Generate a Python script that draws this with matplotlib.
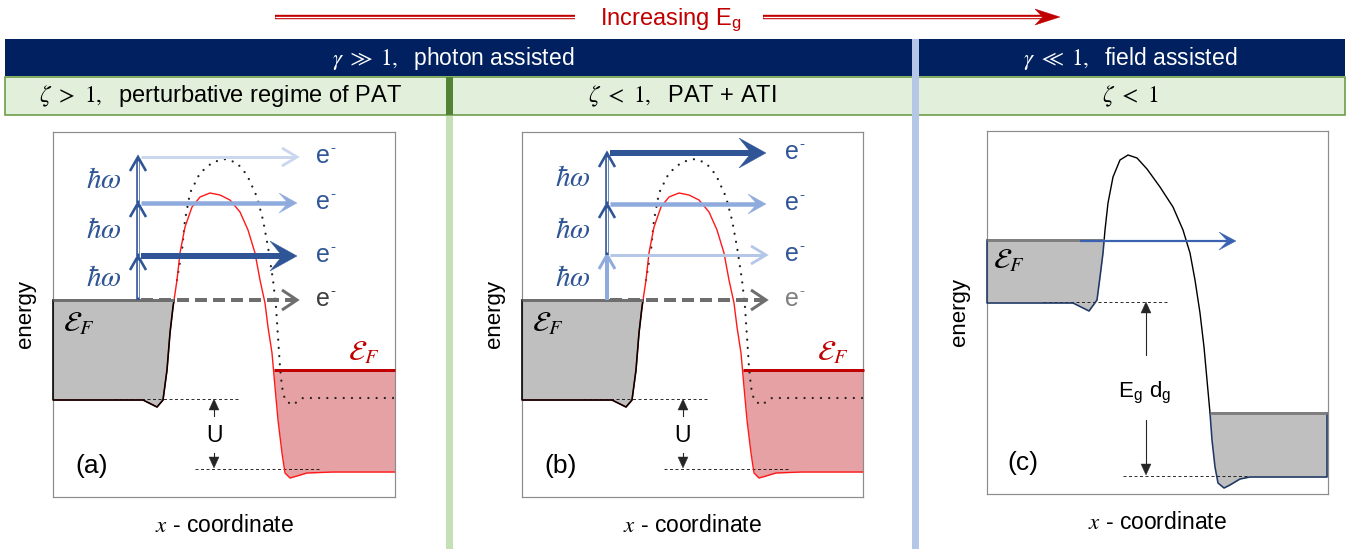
import numpy as np
import matplotlib
matplotlib.use('Agg')
import matplotlib.pyplot as plt
from matplotlib.patches import Rectangle, Polygon

plt.rcParams['font.family'] = ['Liberation Sans', 'DejaVu Sans']
plt.rcParams['mathtext.fontset'] = 'stix'
plt.rcParams['lines.scale_dashes'] = False

W, H, DPI = 1355, 550, 100
PT = 72.0 / DPI   # points per pixel

# ---------------- texts ----------------
regime_labels = [r'$\gamma\ \gg\ 1,$  photon assisted', r'$\gamma\ \ll\ 1,$  field assisted']
subregime_labels = [r'$\zeta\ >\ 1,$  perturbative regime of PAT', r'$\zeta\ <\ 1,$  PAT + ATI',
                    r'$\zeta\ <\ 1$']
trend_label = r'Increasing E$_\mathregular{g}$'
panel_tags = ['(a)', '(b)', '(c)']
x_label = r'$x$ - coordinate'
y_label = 'energy'
photon_label = r'$\hbar\omega$'
electron_label = 'e'
electron_sup = '-'
fermi_label = r'$\mathcal{E}_F$'
gap_label = r'E$_\mathregular{g}$ d$_\mathregular{g}$'
shift_label = 'U'

# ---------------- values (panel units: x from left edge, energy up from bottom) ----------------
# photon-assisted barrier (panels a, b)
pat_x = np.array([0, 90, 104, 110, 114, 117, 120, 124, 127, 132, 139, 147, 157, 167, 177, 187,
                  195, 202, 207, 212, 215, 219, 222, 225, 229, 232, 237, 244, 254, 280, 342])
pat_E = np.array([97, 97, 90, 97, 127, 164, 190, 217, 244, 270, 290, 300, 304, 302, 297, 285,
                  267, 244, 217, 194, 170, 144, 110, 77, 44, 24, 19, 21, 24, 25, 25])
# barrier without applied bias (dotted)
ref_x = np.array([124, 129, 132, 137, 147, 160, 173, 184, 194, 204, 210, 215, 220, 223, 225,
                  227, 229, 232, 239, 244, 250, 342])
ref_E = np.array([217, 247, 277, 304, 324, 335, 338, 334, 322, 300, 277, 250, 217, 190, 160,
                  130, 110, 97, 92, 95, 99, 99])
pat_fermi_left = 197
pat_fermi_right = 127
pat_ref_low = [98, 28]          # dashed reference levels (U between them)

# photon energy ladders (bottom -> top)
levels_a = [197, 241, 294, 340]
levels_b = [197, 242, 293, 344]
hstyle_a = ['dashed', 'heavy', 'medium', 'light']
hstyle_b = ['dashed', 'light', 'medium', 'heavy']
hcolor_a = ['#6e6e6e', '#2f5597', '#8faadc', '#cbd7ec']
hcolor_b = ['#6e6e6e', '#b4c7e7', '#8faadc', '#2f5597']
vstyle_a = ['double', 'double', 'double']
vstyle_b = ['solid', 'double', 'double']
vcolor_a = ['#2f5597', '#2f5597', '#2f5597']
vcolor_b = ['#8faadc', '#2f5597', '#2f5597']
ecolor_a = ['#3f3f3f', '#2f5597', '#2f5597', '#2f5597']
ecolor_b = ['#7f7f7f', '#2f5597', '#2f5597', '#2f5597']

# field-assisted barrier (panel c)
fe_x = np.array([0, 86, 102, 110, 113, 116, 118, 121, 126, 133, 141, 150, 160, 173, 186, 196,
                 203, 208, 213, 217, 220, 223, 225, 228, 231, 237, 243, 253, 263, 340])
fe_E = np.array([191, 191, 183, 194, 217, 241, 264, 291, 317, 334, 339, 336, 325, 307, 287, 264,
                 241, 214, 181, 147, 114, 81, 54, 27, 11, 6, 9, 15, 17, 17])
fe_fermi_left = 254
fe_fermi_right = 81
fe_ref = [192, 18]

# ---------------- layout (pixels, y from top) ----------------
panel_boxes = [(53, 132, 395, 497), (522, 132, 863, 497), (987, 131, 1328, 494)]
NAVY = '#002060'
GREEN_FILL = '#e2efda'
GREEN_EDGE = '#6a9a44'
RED = '#c00000'
GRAYFILL = '#bfbfbf'
GRAYLINE = '#6f6f6f'

fig = plt.figure(figsize=(W / DPI, H / DPI), dpi=DPI)
ax0 = fig.add_axes([0, 0, 1, 1])
ax0.set_xlim(0, W)
ax0.set_ylim(H, 0)
ax0.axis('off')


def filled_head(ax, tip, d, length, half, notch, color, z):
    tx, ty = tip
    dx, dy = d
    px, py = -dy, dx
    verts = [(tx, ty),
             (tx - dx * length + px * half, ty - dy * length + py * half),
             (tx - dx * length * notch, ty - dy * length * notch),
             (tx - dx * length - px * half, ty - dy * length - py * half)]
    ax.add_patch(Polygon(verts, closed=True, fc=color, ec=color, lw=0.3, zorder=z, clip_on=False))


def open_head(ax, tip, d, length, half, color, lw_px, z):
    tx, ty = tip
    dx, dy = d
    px, py = -dy, dx
    ax.plot([tx - dx * length + px * half, tx, tx - dx * length - px * half],
            [ty - dy * length + py * half, ty, ty - dy * length - py * half],
            color=color, lw=lw_px * PT, solid_joinstyle='miter', solid_capstyle='butt',
            zorder=z, clip_on=False)


# ---------------- header ----------------
ax0.add_patch(Rectangle((5, 39), 1340, 37, fc=NAVY, ec='none', zorder=1))
ax0.add_patch(Rectangle((5, 77), 1340, 38, fc=GREEN_FILL, ec=GREEN_EDGE, lw=1.6 * PT, zorder=1))
ax0.add_patch(Rectangle((445.5, 77), 7, 38, fc='#548235', ec='none', zorder=2))
ax0.add_patch(Rectangle((445.5, 115.5), 7, 433, fc='#c5e0b4', ec='none', zorder=2))
ax0.add_patch(Rectangle((912, 39), 7, 510, fc='#b4c7e7', ec='none', zorder=3))

for lab, xc in zip(regime_labels, [453, 1130]):
    ax0.text(xc, 58, lab, color='white', fontsize=16.5, ha='center', va='center', zorder=4)
for lab, xc in zip(subregime_labels, [221, 682, 1130]):
    ax0.text(xc, 96, lab, color='black', fontsize=17, ha='center', va='center', zorder=4)

# trend arrow (double red line)
for xa, xb in [(275, 575), (763, 1044)]:
    ax0.plot([xa, xb], [17, 17], color=RED, lw=4.4 * PT, solid_capstyle='butt')
    ax0.plot([xa, xb], [17, 17], color='white', lw=1.3 * PT, solid_capstyle='butt')
filled_head(ax0, (1060, 17), (1, 0), 25, 8, 0.7, RED, 3)
ax0.text(671, 25, trend_label, color=RED, fontsize=17, ha='center', va='baseline')


def panel_axes(box):
    x0, y0, x1, y1 = box
    ax = fig.add_axes([x0 / W, 1 - y1 / H, (x1 - x0) / W, (y1 - y0) / H])
    ax.set_xlim(0, x1 - x0)
    ax.set_ylim(0, y1 - y0)
    ax.set_xticks([])
    ax.set_yticks([])
    for s in ax.spines.values():
        s.set_color('#8c8c8c')
        s.set_linewidth(1.2 * PT)
    ax.set_xlabel(x_label, fontsize=16.5, labelpad=12)
    ax.set_ylabel(y_label, fontsize=16, labelpad=12)
    return ax


def crossings(x, E, lev_left, lev_right):
    ip = int(np.argmax(E))
    idip = int(np.argmin(E[:ip]))
    xl = np.interp(lev_left, E[idip:ip + 1], x[idip:ip + 1])
    ir = ip + int(np.argmin(E[ip:]))
    xr = np.interp(lev_right, E[ip:ir + 1][::-1], x[ip:ir + 1][::-1])
    return ip, xl, xr


def h_arrow(ax, x0, x1, y, style, color, z=6):
    if style == 'heavy':
        ax.plot([x0, x1 - 12], [y, y], color=color, lw=6 * PT, solid_capstyle='butt', zorder=z)
        filled_head(ax, (x1, y), (1, 0), 27, 15, 0.55, color, z)
    elif style == 'medium':
        ax.plot([x0, x1 - 8], [y, y], color=color, lw=4.5 * PT, solid_capstyle='butt', zorder=z)
        filled_head(ax, (x1, y), (1, 0), 18, 10, 0.5, color, z)
    elif style == 'light':
        ax.plot([x0, x1 - 2], [y, y], color=color, lw=3 * PT, solid_capstyle='butt', zorder=z)
        open_head(ax, (x1, y), (1, 0), 15, 9, color, 2.8, z)
    else:
        ax.plot([x0, x1 - 3], [y, y], color=color, lw=4 * PT, solid_capstyle='butt',
                linestyle=(0, (12 * PT, 6 * PT)), zorder=z)
        open_head(ax, (x1, y), (1, 0), 15, 10, color, 3, z)


def v_arrow(ax, x, y0, y1, style, color, z=6):
    if style == 'double':
        ax.plot([x, x], [y0, y1 - 1], color=color, lw=3.6 * PT, solid_capstyle='butt', zorder=z)
        ax.plot([x, x], [y0 + 3, y1 - 4], color='white', lw=1.3 * PT, solid_capstyle='butt', zorder=z)
        open_head(ax, (x, y1), (0, 1), 14, 8, color, 2.6, z)
    else:
        ax.plot([x, x], [y0, y1 - 1], color=color, lw=4 * PT, solid_capstyle='butt', zorder=z)
        open_head(ax, (x, y1), (0, 1), 14, 8, color, 3, z)


def thin_arrow(ax, x, y_tail, y_tip, color='#262626'):
    d = 1 if y_tip > y_tail else -1
    ax.plot([x, x], [y_tail, y_tip - d * 6], color=color, lw=1.1 * PT, zorder=5)
    filled_head(ax, (x, y_tip), (0, d), 11, 5, 1.0, color, 5)


def electron(ax, x, y, color):
    ax.text(x, y, electron_label, fontsize=18, color=color, ha='left', va='center')
    ax.text(x + 14, y + 8, electron_sup, fontsize=11, color=color, ha='left', va='center')


def draw_pat(ax, tag, levels, hstyle, hcolor, vstyle, vcolor, ecolor):
    x, E = pat_x, pat_E
    ip, xl, xr = crossings(x, E, pat_fermi_left, pat_fermi_right)
    ax.fill_between(x, E, pat_fermi_left, where=(E <= pat_fermi_left) & (x < x[ip]),
                    interpolate=True, color=GRAYFILL, lw=0, zorder=1)
    ax.fill_between(x, E, pat_fermi_right, where=(E <= pat_fermi_right) & (x > x[ip]),
                    interpolate=True, color='#e6a1a4', lw=0, zorder=1)
    ax.plot(ref_x, ref_E, color='#202020', lw=2.3 * PT, linestyle=(0, (0.01, 8.2 * PT)),
            dash_capstyle='round', zorder=3)
    ax.plot(x, E, color='#ff1a1a', lw=1.4 * PT, zorder=4)
    m = x < xl
    ax.plot(np.r_[0, x[m], xl], np.r_[pat_fermi_left, E[m], pat_fermi_left], color='black',
            lw=1.6 * PT, zorder=4, clip_on=False)
    ax.plot([0, xl], [pat_fermi_left, pat_fermi_left], color=GRAYLINE, lw=3 * PT, zorder=5,
            solid_capstyle='butt')
    ax.plot([xr, x[-1]], [pat_fermi_right, pat_fermi_right], color=RED, lw=3 * PT, zorder=5,
            solid_capstyle='butt', clip_on=False)
    # reference levels and U
    ax.plot([61, 185], [pat_ref_low[0]] * 2, color='black', lw=0.8 * PT,
            linestyle=(0, (3 * PT, 2.5 * PT)), zorder=3)
    ax.plot([142, 267], [pat_ref_low[1]] * 2, color='black', lw=0.8 * PT,
            linestyle=(0, (3 * PT, 2.5 * PT)), zorder=3)
    thin_arrow(ax, 161, 81, pat_ref_low[0])
    thin_arrow(ax, 161, 44, pat_ref_low[1] + 1)
    ax.text(161, 62, shift_label, fontsize=16.5, ha='center', va='center')
    # photon ladder
    for i in range(3):
        v_arrow(ax, 85, levels[i], levels[i + 1], vstyle[i], vcolor[i])
        ax.text(51, (levels[i] + levels[i + 1]) / 2, photon_label, fontsize=21, color='#2f5597',
                ha='center', va='center')
    for lev, st, col, ec in zip(levels, hstyle, hcolor, ecolor):
        h_arrow(ax, 88, 244, lev, st, col)
        electron(ax, 263, lev + 1, ec)
    ax.text(26, 174, fermi_label, fontsize=21, ha='center', va='center', color='black')
    ax.text(311, 145, fermi_label, fontsize=21, ha='center', va='center', color=RED)
    ax.text(39, 31, tag, fontsize=19, ha='center', va='center')


axa = panel_axes(panel_boxes[0])
draw_pat(axa, panel_tags[0], levels_a, hstyle_a, hcolor_a, vstyle_a, vcolor_a, ecolor_a)
axb = panel_axes(panel_boxes[1])
draw_pat(axb, panel_tags[1], levels_b, hstyle_b, hcolor_b, vstyle_b, vcolor_b, ecolor_b)

# ---------------- panel (c) ----------------
axc = panel_axes(panel_boxes[2])
x, E = fe_x, fe_E
ip, xl, xr = crossings(x, E, fe_fermi_left, fe_fermi_right)
axc.fill_between(x, E, fe_fermi_left, where=(E <= fe_fermi_left) & (x < x[ip]),
                 interpolate=True, color=GRAYFILL, lw=0, zorder=1)
axc.fill_between(x, E, fe_fermi_right, where=(E <= fe_fermi_right) & (x > x[ip]),
                 interpolate=True, color=GRAYFILL, lw=0, zorder=1)
NAVYLINE = '#1f3864'
ml = x < xl
axc.plot(np.r_[0, x[ml], xl], np.r_[fe_fermi_left, E[ml], fe_fermi_left], color=NAVYLINE,
         lw=1.6 * PT, zorder=4, clip_on=False)
mb = (x > xl) & (x < xr)
axc.plot(np.r_[xl, x[mb], xr], np.r_[fe_fermi_left, E[mb], fe_fermi_right], color='black',
         lw=1.4 * PT, zorder=4)
mr = x > xr
axc.plot(np.r_[xr, x[mr], x[-1]], np.r_[fe_fermi_right, E[mr], fe_fermi_right], color=NAVYLINE,
         lw=1.6 * PT, zorder=4)
axc.plot([0, xl], [fe_fermi_left] * 2, color='#7f7f7f', lw=3 * PT, zorder=5, solid_capstyle='butt')
axc.plot([xr, x[-1]], [fe_fermi_right] * 2, color='#7f7f7f', lw=3 * PT, zorder=5,
         solid_capstyle='butt')
axc.plot([56, 180], [fe_ref[0]] * 2, color='black', lw=0.8 * PT,
         linestyle=(0, (3 * PT, 2.5 * PT)), zorder=3)
axc.plot([136, 260], [fe_ref[1]] * 2, color='black', lw=0.8 * PT,
         linestyle=(0, (3 * PT, 2.5 * PT)), zorder=3)
thin_arrow(axc, 159, 139, fe_ref[0])
thin_arrow(axc, 159, 74, fe_ref[1] + 1)
axc.text(158, 102, gap_label, fontsize=16, ha='center', va='center')
# tunnelling electron
axc.plot([93, 240], [fe_fermi_left - 1] * 2, color='#3a62b0', lw=2.2 * PT, zorder=6,
         solid_capstyle='butt')
filled_head(axc, (249, fe_fermi_left - 1), (1, 0), 17, 9, 0.5, '#3a62b0', 6)
axc.text(22, 234, fermi_label, fontsize=21, ha='center', va='center')
axc.text(36, 31, panel_tags[2], fontsize=19, ha='center', va='center')

fig.savefig('out.png', dpi=DPI)
